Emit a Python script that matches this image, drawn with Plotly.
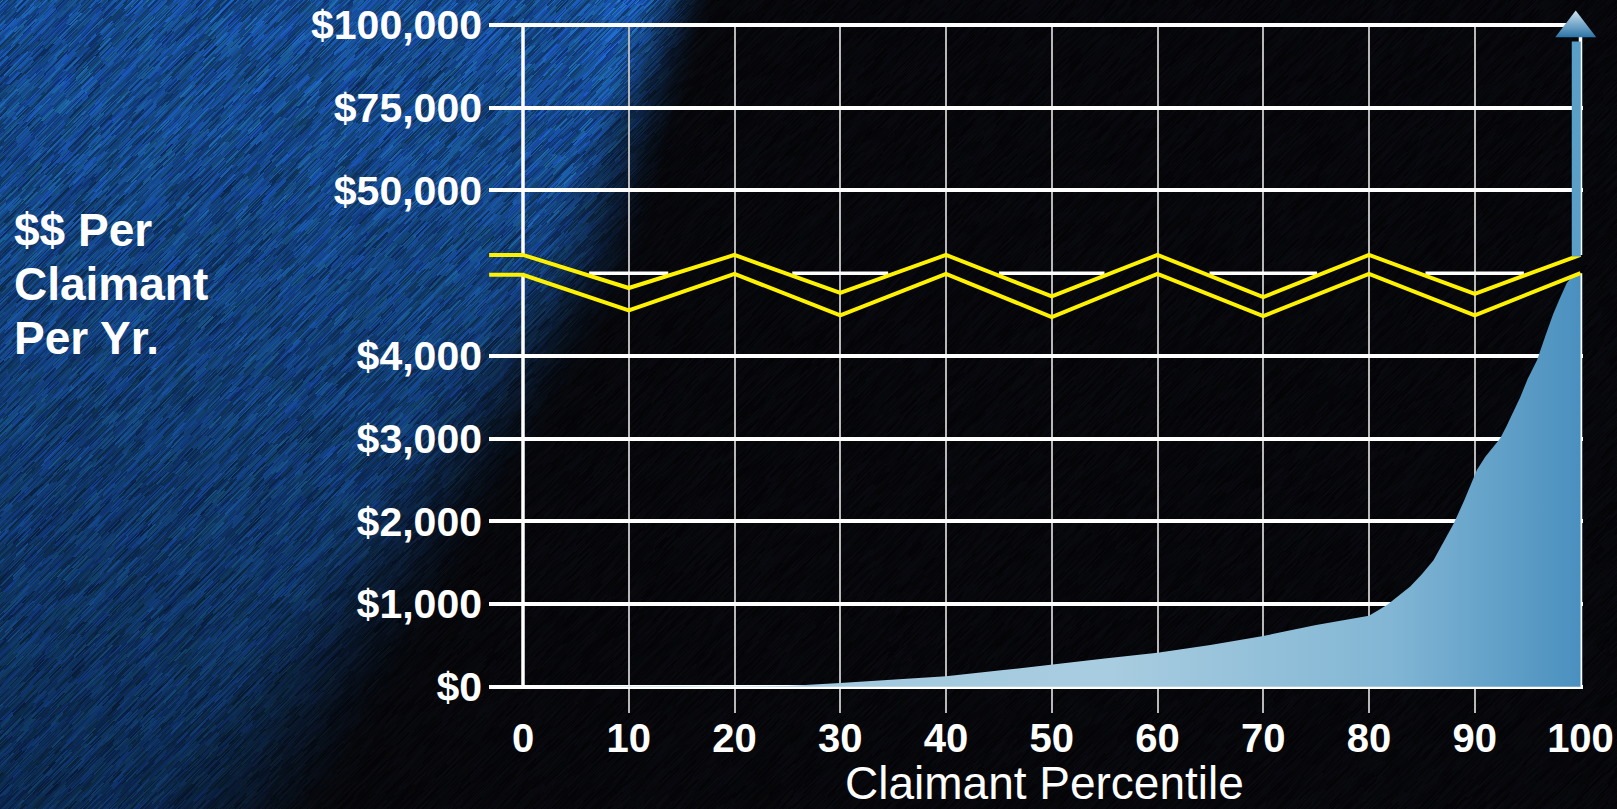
import base64
import struct
import zlib

import numpy as np
import plotly.graph_objects as go

# ---------------- data ----------------
PERCENTILE_TICKS = [0, 10, 20, 30, 40, 50, 60, 70, 80, 90, 100]
PERCENTILE_LABELS = ["0", "10", "20", "30", "40", "50", "60", "70", "80", "90", "100"]

LOW_TICK_USD = [0, 1000, 2000, 3000, 4000]
LOW_TICK_TEXT = ["$0", "$1,000", "$2,000", "$3,000", "$4,000"]
HIGH_TICK_USD = [50000, 75000, 100000]
HIGH_TICK_TEXT = ["$50,000", "$75,000", "$100,000"]

# dollars per claimant per year by claimant percentile
CURVE_PCT = [0, 5, 10, 15, 20, 25, 30, 35, 40, 45, 50, 55, 60, 65, 70, 75, 80,
             81.7, 83.9, 85.0, 86.1, 88.0, 89.0, 90.2, 91.0, 92.4, 93.0, 94.3, 95.0,
             95.9, 96.7, 97.4, 98.0, 98.7, 99.2, 100]
CURVE_USD = [0, 3, 8, 4, 2, 8, 45, 85, 125, 195, 272, 340, 410, 505, 613, 745, 858,
             988, 1210, 1360, 1530, 1970, 2250, 2620, 2780, 3000, 3150, 3500, 3720,
             3950, 4250, 4500, 4680, 4880, 5300, 5300]

# the top claimant, shown as an arrow running off the chart
ARROW_PCT = 99.6
ARROW_USD = 100000

# axis-break zigzag (in axis units of the broken scale)
ZIG_X = [-3.2, 0, 10, 20, 30, 40, 50, 60, 70, 80, 90, 100]
ZIG_UPPER = [5.22, 5.22, 4.82, 5.22, 4.76, 5.22, 4.72, 5.22, 4.71, 5.22, 4.75, 5.22]
ZIG_LOWER = [4.98, 4.98, 4.55, 4.99, 4.49, 4.99, 4.47, 4.99, 4.48, 4.99, 4.49, 5.00]
BREAK_POS = 5

Y_TITLE_LINES = ["$$ Per", "Claimant", "Per Yr."]
X_TITLE = "Claimant Percentile"

# ---------------- geometry ----------------
W, H = 1617, 809
L, R, T, B = 489, 34, 23, 121
PW, PH = W - L - R, H - T - B
X0_PIX, X_PPU = 523.0, 10.575          # pixel of percentile 0, pixels per unit
Y0_PIX, Y8_PIX = 686.7, 25.0
Y_PPU = (Y0_PIX - Y8_PIX) / 8.0
X_RANGE = [-(X0_PIX - L) / X_PPU, -(X0_PIX - L) / X_PPU + PW / X_PPU]
Y_RANGE = [-(T + PH - Y0_PIX) / Y_PPU, 8 + (Y8_PIX - T) / Y_PPU]


def usd_to_axis(v):
    v = np.asarray(v, dtype=float)
    return np.where(v >= 50000, 6 + (v - 50000) / 25000.0, v / 1000.0)


def px_to_paper(px, py):
    return (px - L) / PW, 1 - (py - T) / PH


# ---------------- background texture ----------------
def h2(a, b):
    return np.abs(np.sin(a * 12.9898 + b * 78.233) * 43758.5453) % 1.0


yy, xx = np.mgrid[0:H, 0:W].astype(np.float64)
u = xx + yy
v = xx - yy
k1 = np.floor(u / 1.5)
m1 = np.floor((v + h2(k1, 0.5) * 60) / 24)
n1 = h2(k1, m1)
k2 = np.floor(u / 3.0)
m2 = np.floor((v + h2(k2, 3.3) * 120) / 70)
n2 = h2(k2 + 17.0, m2)
nz = 0.7 * n1 + 0.3 * n2
tint = h2(k1 + 5.0, m1 + 2.0)

s = 0.839 * xx + 0.545 * yy
mid = 628 - 62 * np.clip(1 - yy / 260.0, 0, 1)
wdt = 70 + 130 * (yy / H)
z = np.clip((s - (mid - wdt / 2)) / wdt, 0, 1)
mask = 1 - z * z * (3 - 2 * z)
glow = np.exp(-((s - mid + 25) / 45.0) ** 2) * np.clip(1 - yy / 300.0, 0, 1) * 0.18
bright = (1.08 - 0.48 * (yy / H)) * (1 + glow)
c_blue = np.array([21, 66, 152], float)
c_teal = np.array([27, 102, 112], float)
tt = (tint * 0.5)[..., None]
blue = (c_blue * (1 - tt) + c_teal * tt) * ((0.55 + 0.8 * nz) * bright)[..., None]
dark = np.array([7, 8, 12], float) * (0.5 + 1.0 * nz)[..., None]
rgb = mask[..., None] * blue + (1 - mask[..., None]) * dark
rgb = (np.clip(rgb, 0, 255).astype(np.uint8) & 0xFE)


def make_png(arr):
    h, w, _ = arr.shape
    raw = np.concatenate([np.zeros((h, 1), np.uint8), arr.reshape(h, w * 3)], axis=1).tobytes()

    def chunk(tag, data):
        c = struct.pack(">I", len(data)) + tag + data
        return c + struct.pack(">I", zlib.crc32(tag + data) & 0xFFFFFFFF)

    return (b"\x89PNG\r\n\x1a\n" + chunk(b"IHDR", struct.pack(">IIBBBBB", w, h, 8, 2, 0, 0, 0))
            + chunk(b"IDAT", zlib.compress(raw, 6)) + chunk(b"IEND", b""))


bg_src = "data:image/png;base64," + base64.b64encode(make_png(rgb)).decode()

# ---------------- figure ----------------
FONT = "Liberation Sans, Arial, Helvetica, sans-serif"
WHITE = "#ffffff"
GRID_GRAY = "#b8b8b8"
YELLOW = "#fff200"

fig = go.Figure()

# break gridline: drawn only where it lies outside the zigzag band
xs = np.linspace(ZIG_X[0], X_RANGE[1], 3000)
up = np.interp(xs, ZIG_X, ZIG_UPPER)
gy = np.where(up < BREAK_POS - 0.03, float(BREAK_POS), np.nan)
gy[xs > ZIG_X[-1]] = np.nan
fig.add_trace(go.Scatter(x=xs, y=gy, mode="lines", connectgaps=False,
                         line=dict(color=WHITE, width=3.5), hoverinfo="skip"))

# y-axis line (x=0) and right border (x=100), cut by the break band
x_left, x_right = PERCENTILE_TICKS[0], PERCENTILE_TICKS[-1]
lo0, up0 = np.interp(x_left, ZIG_X, ZIG_LOWER), np.interp(x_left, ZIG_X, ZIG_UPPER)
lo1, up1 = np.interp(x_right, ZIG_X, ZIG_LOWER), np.interp(x_right, ZIG_X, ZIG_UPPER)
top = float(usd_to_axis(HIGH_TICK_USD[-1]))
fig.add_trace(go.Scatter(
    x=[x_left, x_left, None, x_left, x_left, None, x_right, x_right, None, x_right, x_right],
    y=[0, lo0, None, up0, top, None, 0, lo1, None, up1, top],
    mode="lines", line=dict(color=WHITE, width=3.5), hoverinfo="skip"))

# area
cx = np.array(CURVE_PCT, float)
cy = np.minimum(usd_to_axis(CURVE_USD), np.interp(cx, ZIG_X, ZIG_LOWER))
fig.add_trace(go.Scatter(
    x=cx, y=cy, mode="lines", fill="tozeroy", line=dict(width=0, color="rgba(0,0,0,0)"),
    fillgradient=dict(type="horizontal", start=0, stop=100,
                      colorscale=[[0, "#98c4dc"], [0.55, "#a9cde0"], [0.82, "#82b6d4"],
                                  [1, "#4a90bf"]]),
    hoverinfo="skip"))

# zigzag break lines
fig.add_trace(go.Scatter(x=ZIG_X, y=ZIG_UPPER, mode="lines",
                         line=dict(color=YELLOW, width=4), hoverinfo="skip"))
fig.add_trace(go.Scatter(x=ZIG_X, y=ZIG_LOWER, mode="lines",
                         line=dict(color=YELLOW, width=4), hoverinfo="skip"))

# arrow for the top claimant
arrow_base = float(np.interp(ARROW_PCT, ZIG_X, ZIG_UPPER))
arrow_top = float(usd_to_axis(ARROW_USD))
fig.add_trace(go.Scatter(x=[ARROW_PCT, ARROW_PCT], y=[arrow_base, arrow_top - 0.2], mode="lines",
                         line=dict(color="#5a9fc8", width=9), hoverinfo="skip"))
fig.add_trace(go.Scatter(x=[ARROW_PCT - 0.05], y=[arrow_top - 0.04], mode="markers", cliponaxis=False,
                         marker=dict(symbol="triangle-up", size=35.5, color="#cfe4f0",
                                     gradient=dict(type="vertical", color="#2b74a8"),
                                     line=dict(width=0)),
                         hoverinfo="skip"))

y_tickvals = list(usd_to_axis(LOW_TICK_USD)) + [BREAK_POS] + list(usd_to_axis(HIGH_TICK_USD))
y_ticktext = LOW_TICK_TEXT + [""] + HIGH_TICK_TEXT
grid_vals = [float(v) for v in y_tickvals if v != BREAK_POS]

fig.update_layout(
    width=W, height=H,
    margin=dict(l=L, r=R, t=T, b=B, autoexpand=False),
    paper_bgcolor="#000000", plot_bgcolor="rgba(0,0,0,0)",
    showlegend=False,
    font=dict(family=FONT, color=WHITE),
    xaxis=dict(range=X_RANGE, tickmode="array", tickvals=PERCENTILE_TICKS, ticktext=PERCENTILE_LABELS,
               showgrid=False, zeroline=False, showline=False, ticks="",
               ticklabelstandoff=23,
               tickfont=dict(size=40, family=FONT, color=WHITE, weight="bold"),
               minor=dict(tickmode="array", tickvals=PERCENTILE_TICKS[1:-1], showgrid=True,
                          gridcolor=GRID_GRAY, gridwidth=2, ticks="outside", ticklen=24,
                          tickcolor=GRID_GRAY, tickwidth=2),
               fixedrange=True),
    yaxis=dict(range=Y_RANGE, tickmode="array", tickvals=grid_vals,
               ticktext=[t for t, v in zip(y_ticktext, y_tickvals) if v != BREAK_POS],
               showgrid=True, gridcolor=WHITE, gridwidth=3.5, zeroline=False, showline=False,
               ticks="", ticklabelstandoff=6,
               tickfont=dict(size=41, family=FONT, color=WHITE, weight="bold"),
               fixedrange=True),
    images=[dict(source=bg_src, xref="paper", yref="paper",
                 x=-L / PW, y=1 + T / PH, sizex=W / PW, sizey=H / PH,
                 xanchor="left", yanchor="top", sizing="stretch", layer="below")],
)

ann = []
for line, cyp in zip(Y_TITLE_LINES, [230, 284, 338]):
    px, py = px_to_paper(12, cyp)
    ann.append(dict(text=line, x=px, y=py, xref="paper", yref="paper", xanchor="left",
                    yanchor="middle", showarrow=False,
                    font=dict(size=46, family=FONT, color=WHITE, weight="bold")))
px, py = px_to_paper(1044, 783)
ann.append(dict(text=X_TITLE, x=px, y=py, xref="paper", yref="paper", xanchor="center",
                yanchor="middle", showarrow=False,
                font=dict(size=46, family=FONT, color=WHITE)))
fig.update_layout(annotations=ann)

fig.write_html("out.html", config={"displayModeBar": False},
               post_script="document.body.style.margin='0';document.body.style.overflow='hidden';")
